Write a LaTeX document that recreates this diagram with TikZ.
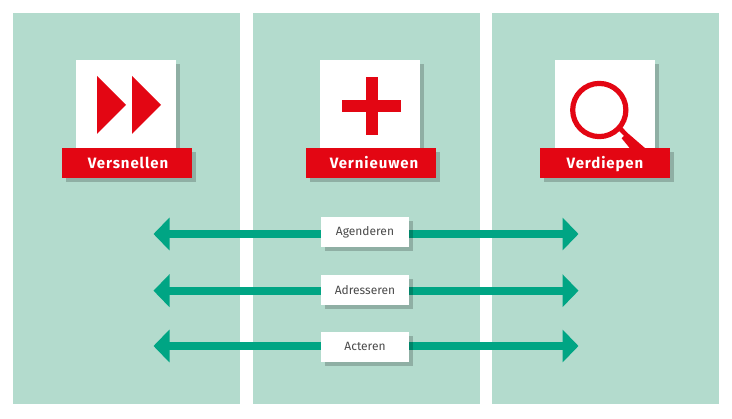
\documentclass[tikz,border=0pt]{standalone}
\usepackage{fontspec}
\setmainfont{Fira Sans}
\usetikzlibrary{positioning,arrows.meta,shadows,backgrounds}
\definecolor{panelgreen}{HTML}{B3DBCD}
\definecolor{flowgreen}{HTML}{00A584}
\definecolor{signalred}{HTML}{E30613}
\definecolor{labelgrey}{HTML}{4A4A4A}
\begin{document}
\begin{tikzpicture}[x=1pt,y=-1pt,
  panel/.style={rectangle, fill=panelgreen, minimum width=227pt, minimum height=391pt, inner sep=0pt},
  softshadow/.style={drop shadow={shadow xshift=4pt, shadow yshift=-4pt, fill=black, opacity=.2}},
  iconbox/.style={rectangle, fill=white, softshadow, minimum width=100pt, minimum height=88pt, inner sep=0pt},
  title/.style={rectangle, fill=signalred, softshadow, text=white, minimum width=130pt, minimum height=30pt, inner sep=0pt, text height=11pt, text depth=0pt, font=\bfseries\fontsize{15}{17}\selectfont\addfontfeatures{LetterSpace=6}},
  tag/.style={rectangle, fill=white, softshadow, text=labelgrey, minimum width=88pt, minimum height=30pt, inner sep=0pt, font=\fontsize{12}{14}\selectfont},
  flow/.style={-{Triangle[length=16pt,width=32pt]}, flowgreen, line width=8pt},
  icon/.style={fill=signalred, draw=none}
]
\useasboundingbox (0,0) rectangle (732,419);
\begin{pgfonlayer}{background}
\node[panel] (left) at (126.5,208.5) {};
\node[panel] (mid) at (366.75,208.5) {};
\node[panel] (right) at (605,208.5) {};
\end{pgfonlayer}

\node[iconbox] (boxa) at (126,104) {};
\node[iconbox] (boxb) at (370,104) {};
\node[iconbox] (boxc) at (605,104) {};

% icons
\fill[icon] (97,76) -- (126,105) -- (97,134) -- cycle;
\fill[icon] (132,76) -- (161,105) -- (132,134) -- cycle;
\fill[icon] (365.5,77) rectangle (377.5,135.5);
\fill[icon] (342,100) rectangle (400.5,112);
\draw[signalred, line width=5.2pt] (599.3,110) circle (26.6);
\fill[icon] (618,130) -- (622,127) -- (627,132.5) -- (645.5,148.5) -- (630,148.5) -- (621.7,138.3) -- (624,136) -- cycle;

\node[title, below=0pt of boxa.south, xshift=1pt] (vers) {\hspace*{2pt}Versnellen};
\node[title, below=0pt of boxb.south, xshift=1pt] (vern) {\hspace*{6pt}Vernieuwen};
\node[title, below=0pt of boxc.south] (verd) {Verdiepen};

\node[tag] (agen) at (365,232) {Agenderen};
\node[tag, below=28pt of agen] (adre) {Adresseren};
\node[tag, below=26pt of adre] (acte) {Acteren};

\coordinate (agenl) at (153.5,234);
\coordinate (agenr) at (578.5,234);
\coordinate (adrel) at (153.5,290.7);
\coordinate (adrer) at (578.5,290.7);
\coordinate (actel) at (153.5,346);
\coordinate (acter) at (578.5,346);

\begin{pgfonlayer}{background}
\draw[flow] (agen.west |- agenl) -- (agenl);
\draw[flow] (agen.east |- agenr) -- (agenr);
\draw[flow] (adre.west |- adrel) -- (adrel);
\draw[flow] (adre.east |- adrer) -- (adrer);
\draw[flow] (acte.west |- actel) -- (actel);
\draw[flow] (acte.east |- acter) -- (acter);
\end{pgfonlayer}
\end{tikzpicture}
\end{document}
